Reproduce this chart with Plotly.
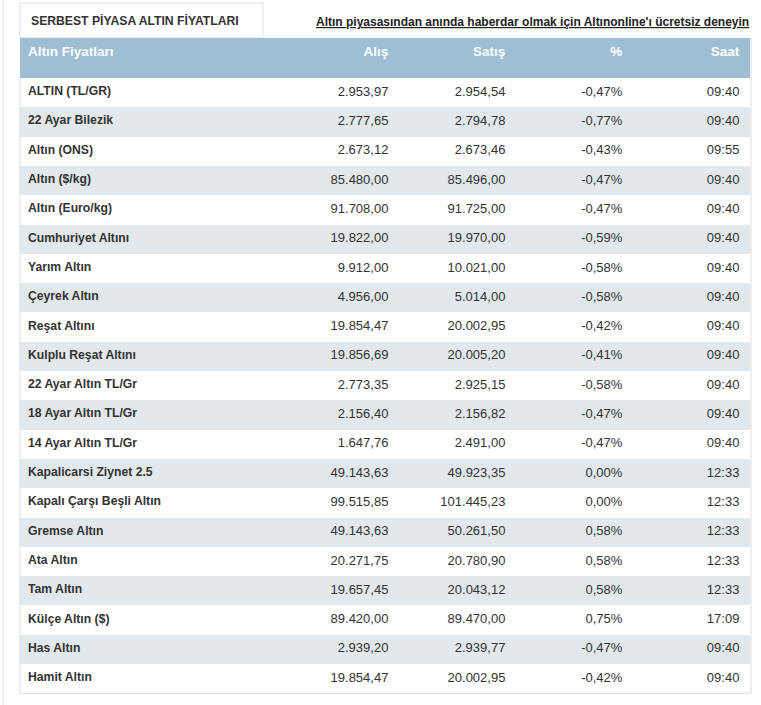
import plotly.graph_objects as go

# ---- data ----
columns = ["Altın Fiyatları", "Alış", "Satış", "%", "Saat"]
names = ["ALTIN (TL/GR)", "22 Ayar Bilezik", "Altın (ONS)", "Altın ($/kg)", "Altın (Euro/kg)",
         "Cumhuriyet Altını", "Yarım Altın", "Çeyrek Altın", "Reşat Altını", "Kulplu Reşat Altını",
         "22 Ayar Altın TL/Gr", "18 Ayar Altın TL/Gr", "14 Ayar Altın TL/Gr", "Kapalicarsi Ziynet 2.5",
         "Kapalı Çarşı Beşli Altın", "Gremse Altın", "Ata Altın", "Tam Altın", "Külçe Altın ($)",
         "Has Altın", "Hamit Altın"]
alis = ["2.953,97", "2.777,65", "2.673,12", "85.480,00", "91.708,00", "19.822,00", "9.912,00",
        "4.956,00", "19.854,47", "19.856,69", "2.773,35", "2.156,40", "1.647,76", "49.143,63",
        "99.515,85", "49.143,63", "20.271,75", "19.657,45", "89.420,00", "2.939,20", "19.854,47"]
satis = ["2.954,54", "2.794,78", "2.673,46", "85.496,00", "91.725,00", "19.970,00", "10.021,00",
         "5.014,00", "20.002,95", "20.005,20", "2.925,15", "2.156,82", "2.491,00", "49.923,35",
         "101.445,23", "50.261,50", "20.780,90", "20.043,12", "89.470,00", "2.939,77", "20.002,95"]
degisim = ["-0,47%", "-0,77%", "-0,43%", "-0,47%", "-0,47%", "-0,59%", "-0,58%", "-0,58%",
           "-0,42%", "-0,41%", "-0,58%", "-0,47%", "-0,47%", "0,00%", "0,00%", "0,58%",
           "0,58%", "0,58%", "0,75%", "-0,47%", "-0,42%"]
saat = ["09:40", "09:40", "09:55", "09:40", "09:40", "09:40", "09:40", "09:40", "09:40", "09:40",
        "09:40", "09:40", "09:40", "12:33", "12:33", "12:33", "12:33", "12:33", "17:09", "09:40", "09:40"]
tab_title = "SERBEST PİYASA ALTIN FİYATLARI"
link_text = "Altın piyasasından anında haberdar olmak için Altınonline'ı ücretsiz deneyin"

# ---- style ----
W, H = 761, 705
FONT = "Liberation Sans, Arial, sans-serif"
HEAD_BG = "#9dbed3"
STRIPE = "#e2e8ec"
TXT = "#333333"
BORDER = "#dddddd"
THIN = "\u2009"

tbl_left, tbl_right = 20, 750
tbl_top, head_h, row_h = 38, 40, 29.3
tbl_bottom = tbl_top + head_h + row_h * len(names)

row_fill = ["white" if i % 2 == 0 else STRIPE for i in range(len(names))]
col_align = ["left", "right", "right", "right", "right"]
col_suffix = ["", THIN, THIN, THIN, THIN]

fig = go.Figure()
fig.add_trace(go.Table(
    domain=dict(x=[tbl_left / W, tbl_right / W],
                y=[max(0, 1 - (tbl_bottom + 4) / H), 1 - tbl_top / H]),
    columnwidth=[262, 117, 117, 117, 117],
    header=dict(
        values=columns,
        fill_color=HEAD_BG,
        line_color=HEAD_BG,
        line_width=0,
        align=col_align,
        suffix=col_suffix,
        font=dict(family=FONT, size=13.5, color="white", weight="bold"),
        height=head_h,
    ),
    cells=dict(
        values=[names, alis, satis, degisim, saat],
        fill_color=[row_fill] * 5,
        line_color=[row_fill] * 5,
        line_width=0,
        align=col_align,
        suffix=col_suffix,
        font=dict(family=FONT, size=[12.2, 13, 13, 13, 13], color=TXT,
                  weight=["bold", "normal", "normal", "normal", "normal"]),
        height=row_h,
    ),
))

shapes = [
    # page left rule
    dict(type="line", xref="paper", yref="paper", x0=3 / W, x1=3 / W, y0=0, y1=1,
         line=dict(color="#e3e3e3", width=1)),
    # tab box
    dict(type="rect", xref="paper", yref="paper", x0=20 / W, x1=263 / W,
         y0=1 - tbl_top / H, y1=1 - 3 / H, line=dict(color=BORDER, width=1), fillcolor="white", layer="below"),
    # table outer border (left, right, bottom)
    dict(type="line", xref="paper", yref="paper", x0=tbl_left / W, x1=tbl_left / W,
         y0=1 - tbl_bottom / H, y1=1 - (tbl_top + head_h) / H, line=dict(color=BORDER, width=1)),
    dict(type="line", xref="paper", yref="paper", x0=(tbl_right + 1) / W, x1=(tbl_right + 1) / W,
         y0=1 - tbl_bottom / H, y1=1 - tbl_top / H, line=dict(color=BORDER, width=1)),
    dict(type="line", xref="paper", yref="paper", x0=tbl_left / W, x1=(tbl_right + 1) / W,
         y0=1 - tbl_bottom / H, y1=1 - tbl_bottom / H, line=dict(color=BORDER, width=1)),
]

annotations = [
    dict(text=tab_title, xref="paper", yref="paper", x=29 / W, y=1 - 20 / H,
         xanchor="left", yanchor="middle", showarrow=False,
         font=dict(family=FONT, size=12.2, color=TXT, weight="bold")),
    dict(text="<u>%s</u>" % link_text, xref="paper", yref="paper", x=(tbl_right + 1) / W, y=1 - 22 / H,
         xanchor="right", yanchor="middle", showarrow=False,
         font=dict(family=FONT, size=12, color="#222222", weight="bold")),
]

fig.update_layout(
    width=W, height=H,
    margin=dict(l=0, r=0, t=0, b=0),
    paper_bgcolor="white", plot_bgcolor="white",
    shapes=shapes, annotations=annotations,
    showlegend=False,
)

fig.write_html("out.html", config={"displayModeBar": False},
               post_script="document.body.style.margin='0';")
